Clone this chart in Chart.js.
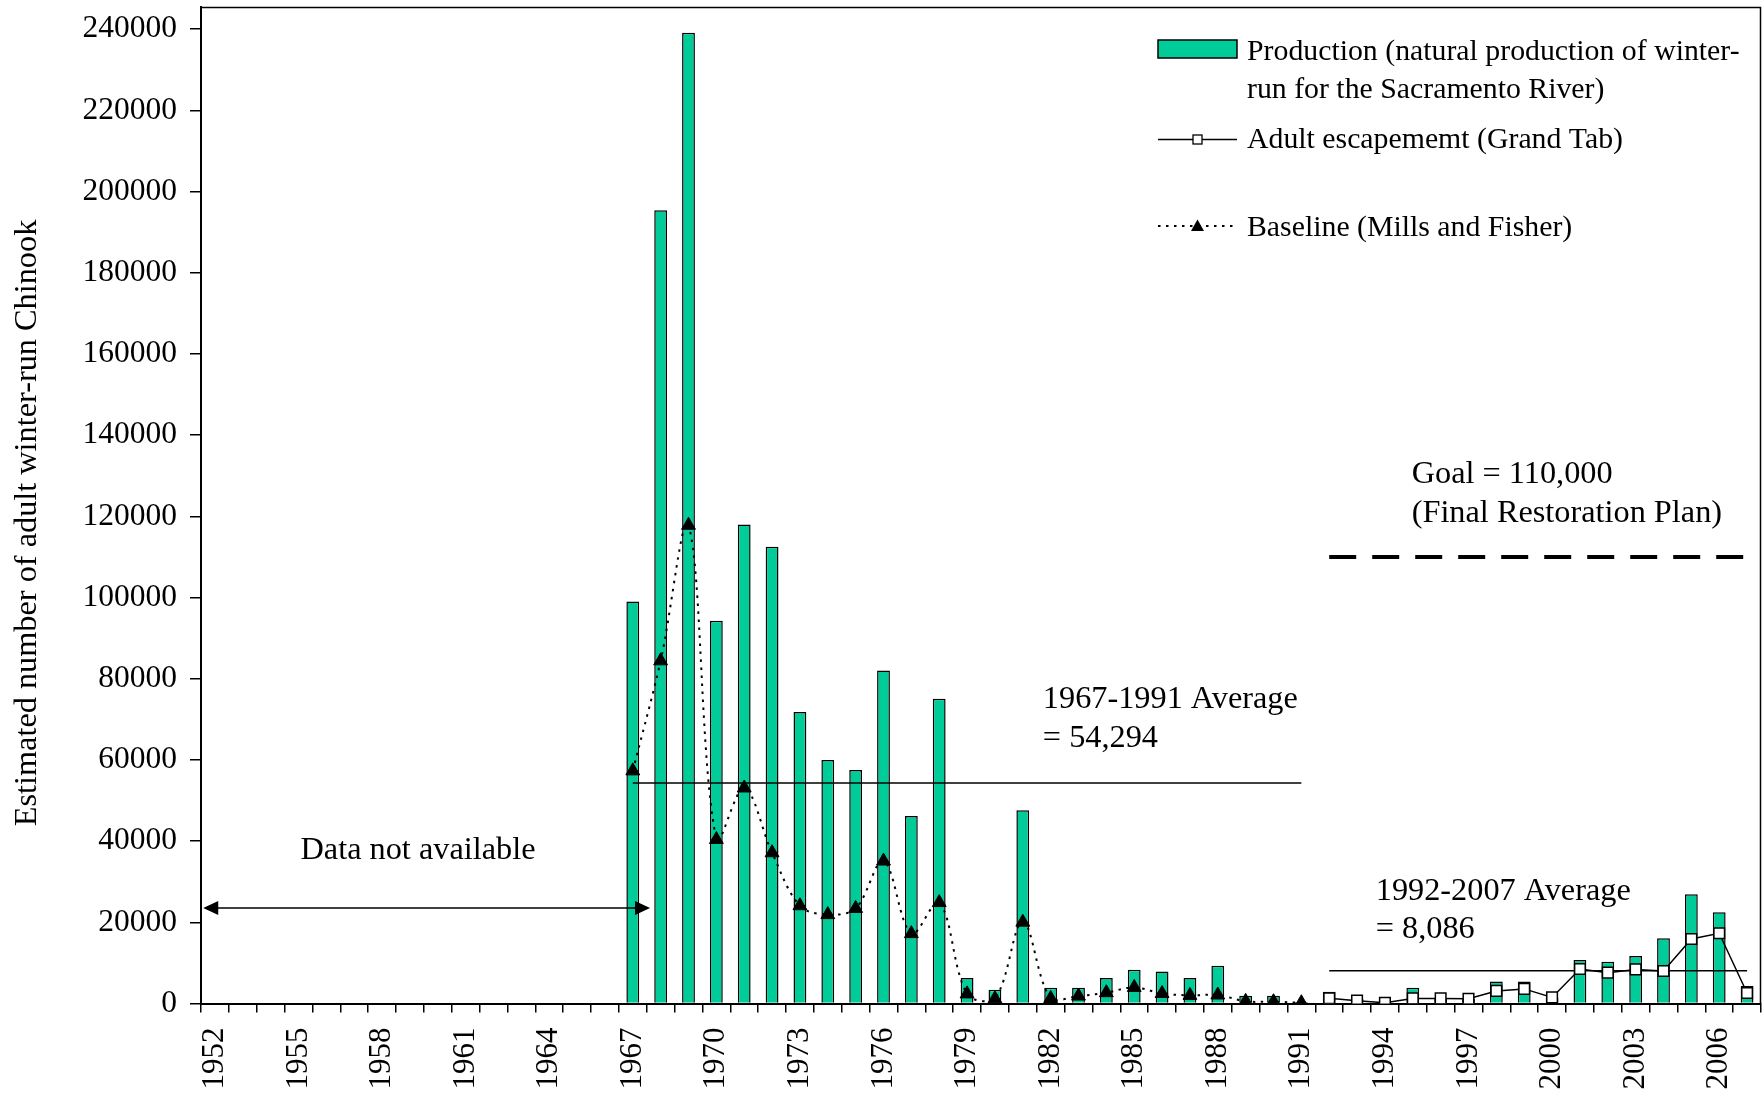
<!DOCTYPE html>
<html>
<head>
<meta charset="utf-8">
<script src="https://cdn.jsdelivr.net/npm/chart.js@4.4.1/dist/chart.umd.min.js"></script>
<style>
html,body{margin:0;padding:0;background:#fff;}
#wrap{width:1763px;height:1093px;}
</style>
</head>
<body>
<div id="wrap"><canvas id="c" width="1763" height="1093"></canvas></div>
<script>
// ---------------- DATA ----------------
const YEARS = [1952,1953,1954,1955,1956,1957,1958,1959,1960,1961,1962,1963,1964,1965,1966,
  1967,1968,1969,1970,1971,1972,1973,1974,1975,1976,1977,1978,1979,1980,1981,1982,1983,1984,
  1985,1986,1987,1988,1989,1990,1991,1992,1993,1994,1995,1996,1997,1998,1999,2000,2001,2002,
  2003,2004,2005,2006,2007];

// Production (natural production of winter-run), 1967-2007
const PRODUCTION_START = 1967;
const PRODUCTION = [99000,195400,239100,94300,118000,112500,71800,60000,57500,82000,
  46200,75100,6300,3400,47600,3900,3900,6300,8300,7900,6300,9300,1900,1900,400,
  2900,1100,400,3900,1100,1100,5400,5400,1500,10700,10300,11700,16100,26900,22500,4300];

// Baseline (Mills and Fisher), 1967-1991
const BASELINE_START = 1967;
const BASELINE = [57306,84414,117808,40409,53089,37133,24079,21897,23430,35096,
  17214,24862,2364,1156,20041,1242,1831,2663,3962,2464,2000,2094,533,441,191];

// Adult escapement (Grand Tab), 1992-2007
const ESCAPEMENT_START = 1992;
const ESCAPEMENT = [1300,700,200,1250,1250,1150,3100,3600,1500,8500,7600,8400,8000,15900,17300,2600];

// Reference lines
const AVG_1967_1991 = 54294;
const AVG_1992_2007 = 8086;
const GOAL = 110000;

// Y axis tick labels
const Y_TICKS = [0,20000,40000,60000,80000,100000,120000,140000,160000,180000,200000,220000,240000];

// ---------------- BUILD ----------------
const pad = (start, vals) => YEARS.map(y => (y >= start && y < start + vals.length) ? vals[y - start] : null);
const span = (from, to, v) => YEARS.map(y => (y >= from && y <= to) ? v : null);

const FONT_FAMILY = '"Liberation Serif", "Times New Roman", serif';
const ANN_FONT = '32.3px ' + FONT_FAMILY;
const LEG_FONT = '29.8px ' + FONT_FAMILY;
const GREEN = '#00CC99';

Chart.defaults.font.family = FONT_FAMILY;
Chart.defaults.font.size = 31;
Chart.defaults.color = '#000';

const overlay = {
  id: 'overlay',
  afterDraw(chart) {
    const {ctx, chartArea: a, scales: {x, y}} = chart;
    const px = yr => x.getPixelForValue(yr - YEARS[0]);
    const py = v => y.getPixelForValue(v);
    ctx.save();
    // frame top/right
    ctx.strokeStyle = '#000';
    ctx.lineWidth = 1.5;
    ctx.beginPath();
    ctx.moveTo(a.left, a.top + 0.5);
    ctx.lineTo(a.right - 0.5, a.top + 0.5);
    ctx.lineTo(a.right - 0.5, a.bottom);
    ctx.stroke();

    ctx.font = ANN_FONT;
    ctx.fillStyle = '#000';
    ctx.textBaseline = 'alphabetic';

    // Data not available + arrow
    ctx.textAlign = 'center';
    ctx.fillText('Data not available', px(1959.29), py(35590));
    const ay = py(23520), axl = px(1951.58), axr = px(1967.62);
    ctx.lineWidth = 1.5;
    ctx.beginPath(); ctx.moveTo(axl + 10, ay); ctx.lineTo(axr - 10, ay); ctx.stroke();
    ctx.beginPath(); ctx.moveTo(axl, ay); ctx.lineTo(axl + 15, ay - 7); ctx.lineTo(axl + 15, ay + 7); ctx.closePath(); ctx.fill();
    ctx.beginPath(); ctx.moveTo(axr, ay); ctx.lineTo(axr - 15, ay - 7); ctx.lineTo(axr - 15, ay + 7); ctx.closePath(); ctx.fill();

    ctx.textAlign = 'left';
    ctx.fillText('1967-1991 Average', px(1981.72), py(72780));
    ctx.fillText('= 54,294', px(1981.72), py(63180));
    ctx.fillText('1992-2007 Average', px(1993.67), py(25490));
    ctx.fillText('= 8,086', px(1993.67), py(16060));
    ctx.fillText('Goal = 110,000', px(1994.96), py(128100));
    ctx.fillText('(Final Restoration Plan)', px(1994.96), py(118600));

    // Y axis title
    ctx.save();
    ctx.translate(28, 523);
    ctx.rotate(-Math.PI / 2);
    ctx.textAlign = 'center';
    ctx.textBaseline = 'middle';
    ctx.fillText('Estimated number of adult winter-run Chinook', 0, 0);
    ctx.restore();

    // Legend
    ctx.font = LEG_FONT;
    const lx = 1158, lw = 79, tx = 1247, cx = lx + lw / 2;
    ctx.fillStyle = GREEN;
    ctx.fillRect(lx, 40, lw, 18);
    ctx.strokeStyle = '#000'; ctx.lineWidth = 1.5;
    ctx.strokeRect(lx, 40, lw, 18);
    ctx.fillStyle = '#000';
    ctx.textAlign = 'left';
    ctx.fillText('Production (natural production of winter-', tx, 60);
    ctx.fillText('run for the Sacramento River)', tx, 98);
    // escapement symbol
    ctx.beginPath(); ctx.moveTo(lx, 139.5); ctx.lineTo(lx + lw, 139.5); ctx.stroke();
    ctx.fillStyle = '#fff';
    ctx.fillRect(cx - 4.5, 135, 9, 9);
    ctx.lineWidth = 1.3;
    ctx.strokeRect(cx - 4.5, 135, 9, 9);
    ctx.fillStyle = '#000';
    ctx.fillText('Adult escapememt (Grand Tab)', tx, 147.5);
    // baseline symbol
    ctx.lineWidth = 2;
    ctx.setLineDash([2.5, 5.5]);
    ctx.beginPath(); ctx.moveTo(lx, 226); ctx.lineTo(lx + lw, 226); ctx.stroke();
    ctx.setLineDash([]);
    ctx.beginPath();
    ctx.moveTo(cx, 219.5); ctx.lineTo(cx + 6.5, 231); ctx.lineTo(cx - 6.5, 231);
    ctx.closePath(); ctx.fill();
    ctx.fillText('Baseline (Mills and Fisher)', tx, 236);
    ctx.restore();
  }
};

new Chart(document.getElementById('c'), {
  data: {
    labels: YEARS.map(String),
    datasets: [
      {
        type: 'line', label: 'Adult escapememt (Grand Tab)',
        data: pad(ESCAPEMENT_START, ESCAPEMENT),
        borderColor: '#000', borderWidth: 1.5, tension: 0,
        pointStyle: 'rect', pointRadius: 7.5, pointBackgroundColor: '#fff',
        pointBorderColor: '#000', pointBorderWidth: 1.5, order: 0
      },
      {
        type: 'line', label: 'Baseline (Mills and Fisher)',
        data: pad(BASELINE_START, BASELINE),
        borderColor: '#000', borderWidth: 2, borderDash: [2.5, 5.5], tension: 0.35,
        pointStyle: 'triangle', pointRadius: 8, pointBackgroundColor: '#000',
        pointBorderColor: '#000', pointBorderWidth: 1, order: 1
      },
      {
        type: 'line', label: '1967-1991 Average',
        data: span(1967, 1991, AVG_1967_1991),
        borderColor: '#000', borderWidth: 1.5, pointRadius: 0, order: 2
      },
      {
        type: 'line', label: '1992-2007 Average',
        data: span(1992, 2007, AVG_1992_2007),
        borderColor: '#000', borderWidth: 1.5, pointRadius: 0, order: 2
      },
      {
        type: 'line', label: 'Goal',
        data: span(1992, 2007, GOAL),
        borderColor: '#000', borderWidth: 4, borderDash: [27, 16], borderCapStyle: 'butt',
        pointRadius: 0, order: 2
      },
      {
        type: 'bar', label: 'Production (natural production of winter-run for the Sacramento River)',
        data: pad(PRODUCTION_START, PRODUCTION),
        backgroundColor: GREEN, borderColor: '#000', borderWidth: 1.5,
        categoryPercentage: 1.0, barPercentage: 0.46, order: 5
      }
    ]
  },
  options: {
    responsive: false,
    animation: false,
    devicePixelRatio: 1,
    layout: { autoPadding: false, padding: { left: 0, right: 2, top: 7, bottom: 0 } },
    plugins: { legend: { display: false }, tooltip: { enabled: false } },
    scales: {
      x: {
        type: 'category',
        offset: true,
        grid: { offset: true, drawOnChartArea: false, drawTicks: true, tickLength: 9, color: '#000', lineWidth: 1.5 },
        border: { display: true, color: '#000', width: 2 },
        ticks: {
          autoSkip: false, minRotation: 90, maxRotation: 90, padding: 15,
          font: { size: 31, family: FONT_FAMILY }, color: '#000',
          callback: function (val, idx) {
            const yr = YEARS[idx];
            return ((yr - YEARS[0]) % 3 === 0) ? String(yr) : '';
          }
        },
        afterFit(scale) { scale.height = 89.5; scale.paddingLeft = 0; scale.paddingRight = 0; }
      },
      y: {
        type: 'linear',
        min: 0, max: 245470,
        grid: { drawOnChartArea: false, drawTicks: true, tickLength: 11, color: '#000', lineWidth: 1.5 },
        border: { display: true, color: '#000', width: 2 },
        ticks: {
          autoSkip: false, maxTicksLimit: 40, padding: 13, color: '#000',
          font: { size: 31.5, family: FONT_FAMILY },
          callback: v => String(v)
        },
        afterBuildTicks(scale) {
          scale.ticks = Y_TICKS.map(v => ({ value: v }));
        },
        afterFit(scale) { scale.width = 201; scale.paddingTop = 0; scale.paddingBottom = 0; }
      }
    }
  },
  plugins: [overlay]
});
</script>
</body>
</html>
